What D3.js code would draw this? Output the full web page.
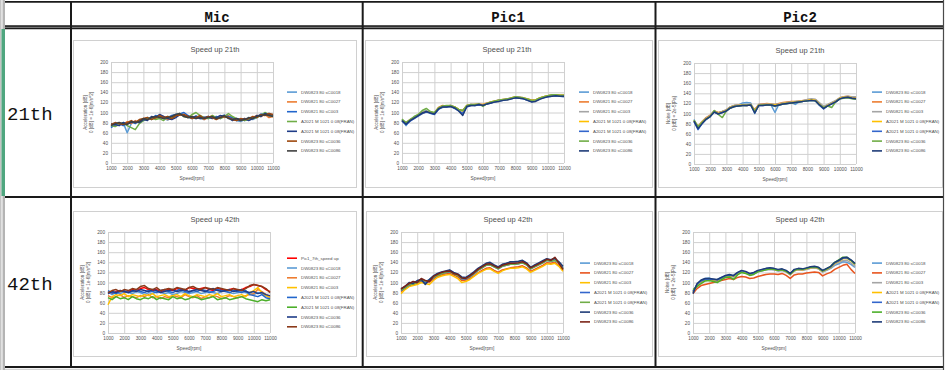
<!DOCTYPE html>
<html>
<head>
<meta charset="utf-8">
<script src="https://cdn.jsdelivr.net/npm/d3@7"></script>
<style>
    body { margin: 0; background: #fff; }
    svg { display: block; }
    .chart text { font-family: "Liberation Sans", Arial, sans-serif; fill: #505050; }
    .axis .domain { display: none; }
    .axis line { stroke: #d0d0d0; stroke-width: 1; }
</style>
</head>
<body>
<script>

// ---- data ----
const rpm = [1000, 1250, 1500, 1750, 2000, 2250, 2500, 2750, 3000, 3250, 3500, 3750, 4000, 4250, 4500,
    4750, 5000, 5250, 5500, 5750, 6000, 6250, 6500, 6750, 7000, 7250, 7500, 7750, 8000, 8250, 8500,
    8750, 9000, 9250, 9500, 9750, 10000, 10250, 10500, 10750, 11000];
const xTicks = [1000, 2000, 3000, 4000, 5000, 6000, 7000, 8000, 9000, 10000, 11000];
const yTicks = [0, 20, 40, 60, 80, 100, 120, 140, 160, 180, 200];

const columnNames = ["Mic", "Pic1", "Pic2"];
const rowNames = ["21th", "42th"];

const titles = ["Speed up 21th", "Speed up 42th"];
const accelLabel = ["Acceleration [dB]", "0 [dB] = 1e-6[m/s^2]"];
const noiseLabel = ["Noise [dB]", "0 [dB] = 2e-5[Pa]"];
const xLabel = "Speed[rpm]";

const names7 = ["DW0823 80 sC0018", "DW0821 80 sC0027", "DW0821 80 sC003", "A2021 M 1021 0 08(FRAN)",
    "A2021 M 1021 0 08(FRAN)", "DW0823 80 sC0036", "DW0823 80 sC0086"];
const namesMic42 = ["Pic1_7th_speed up"].concat(names7);

const mic21Values = [
    [72,78,75,80,60,78,82,80,84,90,86,92,95,88,85,92,96,98,94,90,88,94,88,86,92,90,88,92,95,90,86,84,82,86,90,86,90,97,98,92,94],
    [76,74,80,76,82,78,84,80,88,86,90,88,90,92,86,88,92,95,96,90,92,90,92,86,90,94,88,92,90,94,88,86,84,88,86,90,94,92,96,90,92],
    [70,76,78,74,78,82,78,84,86,90,88,94,92,88,90,94,96,97,100,94,90,88,92,90,88,90,92,88,94,92,90,84,86,84,88,90,92,96,95,98,94],
    [74,72,76,80,74,70,66,78,84,88,90,86,88,84,92,90,94,98,92,90,96,100,94,90,88,94,90,88,92,98,92,88,86,84,86,88,90,94,100,96,92],
    [78,76,74,80,78,80,82,80,86,84,92,90,96,92,88,86,90,96,94,92,90,92,88,90,92,88,90,94,92,90,84,88,86,88,84,88,94,92,98,96,95],
    [76,80,78,76,80,84,80,86,88,90,86,90,94,90,92,88,94,95,96,92,88,90,94,88,92,90,86,90,92,90,86,84,88,86,88,92,90,96,94,98,96],
    [74,78,80,78,76,82,80,82,88,86,90,92,90,88,90,92,96,98,92,90,92,88,90,88,90,92,88,90,94,88,86,88,84,86,90,88,92,94,96,94,92]
];

const pic1_21Values = [
    [86,74,84,90,94,100,104,98,97,107,110,112,114,110,104,96,112,116,114,117,114,118,121,122,125,124,127,128,131,130,128,125,122,124,128,130,133,134,134,133,132],
    [84,80,86,88,96,98,102,101,99,110,114,113,114,111,106,104,114,116,116,117,116,119,121,123,125,126,127,129,130,130,129,127,125,125,129,131,133,134,135,134,134],
    [85,78,86,91,95,101,103,100,98,108,112,112,113,110,105,103,113,115,115,116,115,118,120,122,124,125,126,128,130,129,128,126,123,124,128,130,132,133,134,133,133],
    [84,79,85,89,94,99,102,100,99,109,111,113,112,111,106,103,114,114,116,115,116,117,121,123,124,126,125,129,131,128,129,127,124,125,129,131,133,134,135,134,134],
    [83,76,83,88,93,98,101,99,96,106,111,111,112,108,103,98,111,114,114,115,114,117,119,121,123,124,125,127,129,128,127,124,121,123,127,129,131,132,133,132,131],
    [87,80,86,92,96,104,108,102,100,109,113,114,114,111,106,104,114,116,116,117,112,118,121,123,125,126,127,129,131,130,129,127,124,125,129,131,133,135,135,134,134],
    [84,77,84,89,94,99,102,99,97,107,111,111,112,109,103,94,112,114,114,116,114,117,119,121,122,124,125,127,129,128,127,124,121,122,126,129,131,132,133,132,132]
];

const pic2_21Values = [
    [88,70,82,91,96,105,101,104,107,113,116,117,121,122,121,100,118,118,119,117,102,119,119,120,122,118,123,124,125,126,125,117,112,116,119,124,130,132,132,130,129],
    [85,75,84,92,97,105,102,104,107,113,116,117,117,116,117,108,118,119,120,119,118,120,122,123,124,124,125,126,127,127,127,119,110,117,121,125,131,133,134,132,131],
    [86,74,84,91,96,104,101,104,107,113,116,117,118,118,119,106,118,118,119,119,118,119,121,122,123,124,125,126,128,129,128,121,114,118,122,126,131,133,134,133,133],
    [86,73,83,90,95,104,100,103,106,112,115,116,117,117,118,105,117,117,118,118,117,118,120,121,122,123,124,125,126,127,126,118,111,116,120,124,130,132,133,131,130],
    [84,68,80,88,94,103,99,102,105,111,114,115,116,116,117,102,116,116,117,117,115,117,119,120,121,122,123,124,125,126,125,116,109,115,119,123,129,131,132,130,129],
    [87,74,82,89,94,106,98,92,105,111,114,115,116,116,117,104,116,117,117,117,115,117,119,120,121,122,123,124,125,126,125,117,112,115,112,123,129,130,131,129,128],
    [85,70,80,89,94,103,99,102,105,111,114,115,116,116,117,101,116,116,117,117,115,117,119,120,121,122,123,124,125,126,125,117,110,115,119,123,129,131,132,130,129]
];

const mic42Values = [
    [80,78,82,84,80,82,86,84,88,90,86,84,86,82,84,86,84,88,86,84,90,88,86,88,90,86,84,88,86,84,86,88,84,86,90,92,96,94,92,86,82],
    [82,76,80,78,82,80,78,82,80,76,80,78,82,80,78,80,76,78,82,80,78,80,82,78,80,82,80,78,82,84,80,78,80,82,80,78,76,80,78,74,72],
    [74,70,72,76,70,74,72,70,74,72,76,70,72,68,72,70,74,72,70,76,72,70,74,68,72,70,74,72,68,70,74,72,70,72,74,76,78,86,82,76,72],
    [56,72,76,74,78,72,76,74,72,76,74,78,72,74,76,72,74,76,72,78,74,72,76,74,72,76,74,78,72,74,76,72,74,76,72,80,84,90,80,74,70],
    [84,80,78,82,84,80,82,86,82,80,84,82,80,84,86,82,80,84,88,82,80,84,82,86,84,80,82,86,84,82,80,84,82,80,84,76,74,72,76,70,68],
    [70,66,72,68,70,66,72,68,66,70,68,72,66,70,68,66,72,68,70,66,68,72,70,66,68,70,72,66,68,70,66,68,70,72,68,66,64,62,66,64,66],
    [78,82,80,84,82,80,84,82,86,84,82,86,84,80,82,84,86,82,84,86,82,84,86,84,82,86,88,84,82,84,86,82,84,86,82,80,82,78,80,76,74],
    [80,84,86,82,86,84,88,86,92,94,88,86,90,84,86,88,86,90,88,86,90,92,88,86,90,88,86,90,88,86,84,88,86,84,88,94,96,94,92,88,80]
];

const pic1_42Values = [
    [86,91,98,99,102,106,101,106,112,117,119,121,124,119,116,110,109,114,120,127,132,137,138,134,130,135,137,140,140,141,143,138,129,134,138,142,146,144,146,140,130],
    [82,88,93,96,98,102,100,101,106,112,115,117,118,115,111,104,105,108,113,119,124,128,129,124,120,125,127,129,130,131,133,129,122,126,130,134,139,138,140,134,124],
    [78,86,92,94,96,100,98,96,104,110,113,115,116,112,108,100,102,106,112,118,122,126,127,122,118,123,126,128,128,129,131,127,120,124,128,132,137,136,138,132,122],
    [84,90,95,98,101,104,100,103,109,115,118,120,121,118,114,107,107,111,117,124,129,134,135,131,127,132,134,136,136,137,139,135,127,131,135,139,144,142,144,139,128],
    [85,89,96,97,100,105,103,104,110,114,117,120,122,117,114,108,108,112,118,124,129,134,135,131,127,132,134,136,136,137,139,135,127,131,135,139,144,142,144,139,127],
    [88,92,100,98,104,106,96,106,113,118,121,123,125,120,117,111,110,115,121,128,133,138,140,135,131,136,138,141,141,142,144,139,130,135,139,143,147,145,148,141,132],
    [87,93,98,102,100,108,104,102,112,116,120,122,123,118,116,109,108,113,119,126,131,136,137,133,129,134,136,138,138,139,141,137,129,133,137,141,146,144,150,138,126]
];

const pic2_42Values = [
    [80,96,104,108,109,104,106,110,112,113,112,117,121,119,115,117,121,123,125,126,125,123,124,121,116,123,125,124,126,128,129,127,121,124,128,134,137,141,140,136,130],
    [78,88,94,96,98,100,102,104,106,108,106,110,112,111,108,109,112,114,116,117,117,116,118,114,108,115,117,117,119,120,121,120,113,117,120,126,130,134,136,126,118],
    [81,94,101,104,105,104,103,107,111,113,111,117,121,119,115,117,121,123,125,126,125,123,124,121,115,123,125,124,126,128,129,127,121,125,129,136,140,143,144,139,132],
    [82,95,102,105,106,105,104,108,112,114,112,118,122,120,116,118,122,124,126,127,126,124,125,122,116,124,126,125,127,129,130,128,122,126,130,138,142,147,148,143,136],
    [83,96,103,106,107,106,105,109,113,115,113,119,123,121,117,119,123,125,127,128,127,125,126,123,117,125,127,126,128,130,131,129,123,127,131,139,143,148,149,144,137],
    [86,92,98,103,104,102,100,105,110,111,106,115,120,118,114,116,121,123,125,127,126,124,125,122,117,124,127,126,128,130,131,129,123,127,132,140,145,150,150,144,137],
    [78,98,105,108,108,107,106,110,114,116,114,120,124,122,118,120,124,126,128,129,128,126,127,124,118,126,128,127,129,131,132,130,124,128,132,140,144,149,150,145,138]
];

// ---- colours (Excel-like palette) ----
const micColors21 = ["#5b9bd5", "#ed7d31", "#2266cc", "#70ad47", "#1f3c88", "#9e480e", "#404040"];
const picColors21 = ["#5b9bd5", "#ed7d31", "#a5a5a5", "#ffc000", "#3366cc", "#70ad47", "#1f3c78"];
const micColors42 = ["#ff0000", "#5b9bd5", "#ed7d31", "#ffc000", "#2266cc", "#4caf2a", "#1f3c88", "#8b3a1a"];
const pic1Colors42 = ["#5b9bd5", "#e8541e", "#ffc000", "#3366cc", "#70ad47", "#1f3c78", "#7b2418"];
const pic2Colors42 = ["#5b9bd5", "#e8541e", "#a5a5a5", "#ffc000", "#3366cc", "#4caf2a", "#1f3c78"];

// ---- page ----
const width = 945, height = 370;
const svg = d3.select("body").append("svg")
    .attr("width", width)
    .attr("height", height);

// left gutter of the spreadsheet window
svg.append("rect").attr("x", 0).attr("y", 0).attr("width", 1.5).attr("height", height).attr("fill", "#c4c4c4");
svg.append("rect").attr("x", 2.5).attr("y", 0).attr("width", 2.5).attr("height", height).attr("fill", "#b4b4b4");
svg.append("rect").attr("x", 1.5).attr("y", 29).attr("width", 3.5).attr("height", 167).attr("fill", "#4fa67f");

// one chart inside a cell
const drawPanel = (p) => {
    const [bx, by, bw, bh] = p.box;
    const plotWidth = 162, plotHeight = 101;

    const g = svg.append("g")
        .attr("class", "chart")
        .attr("transform", "translate(" + bx + "," + by + ")");

    g.append("rect")
        .attr("x", 0.5).attr("y", 0.5)
        .attr("width", bw - 1).attr("height", bh - 1)
        .attr("fill", "#fff")
        .attr("stroke", "#d0d0d0");

    g.append("text")
        .attr("x", 142).attr("y", p.top - 10)
        .attr("text-anchor", "middle")
        .style("font-size", "7.5px")
        .text(p.title);

    const plot = g.append("g").attr("transform", "translate(" + p.left + "," + p.top + ")");

    const xRange = d3.scaleLinear().domain([1000, 11000]).range([0, plotWidth]);
    const yRange = d3.scaleLinear().domain([0, 200]).range([plotHeight, 0]);

    plot.append("g")
        .attr("class", "axis")
        .attr("transform", "translate(0," + plotHeight + ")")
        .call(d3.axisBottom(xRange).tickValues(xTicks).tickSize(-plotHeight).tickPadding(4).tickFormat(d3.format("d")))
        .call(a => a.selectAll("text").style("font-size", "4.7px").attr("fill", "#454545").attr("font-family", "Liberation Sans"));

    plot.append("g")
        .attr("class", "axis")
        .call(d3.axisLeft(yRange).tickValues(yTicks).tickSize(-plotWidth).tickPadding(3))
        .call(a => a.selectAll("text").style("font-size", "4.7px").attr("fill", "#454545").attr("font-family", "Liberation Sans"));

    plot.append("text")
        .attr("x", plotWidth / 2).attr("y", plotHeight + 16.5)
        .attr("text-anchor", "middle")
        .style("font-size", "4.8px")
        .text(xLabel);

    p.yLabel.forEach((line, i) => {
        plot.append("text")
            .attr("transform", "translate(" + (-24 + i * 6) + "," + (plotHeight / 2) + ") rotate(-90)")
            .attr("text-anchor", "middle")
            .style("font-size", "4.6px")
            .text(line);
    });

    const valueLine = d3.line()
        .x((d, i) => xRange(rpm[i]))
        .y(d => yRange(d));

    p.values.forEach((series, i) => {
        plot.append("path")
            .attr("d", valueLine(series))
            .attr("fill", "none")
            .attr("stroke", p.colors[i])
            .attr("stroke-width", 1.5)
            .attr("stroke-linejoin", "round");
    });

    // legend
    const step = 9.8;
    const legendTop = 81.5 - (p.names.length - 1) * step / 2;
    p.names.forEach((name, i) => {
        const ly = legendTop + i * step;
        g.append("line")
            .attr("x1", 214).attr("x2", 224)
            .attr("y1", ly).attr("y2", ly)
            .attr("stroke", p.colors[i])
            .attr("stroke-width", 1.6);
        g.append("text")
            .attr("x", 228).attr("y", ly + 1.5)
            .style("font-size", "4.4px")
            .attr("fill", "#404040")
            .text(name);
    });
};

const panels = [
    {box: [73, 40, 284, 148], left: 38, top: 22, title: titles[0], yLabel: accelLabel, names: names7, colors: micColors21, values: mic21Values},
    {box: [365, 40, 288, 148], left: 37, top: 22, title: titles[0], yLabel: accelLabel, names: names7, colors: picColors21, values: pic1_21Values},
    {box: [658, 40, 285, 148], left: 36, top: 23, title: titles[0], yLabel: noiseLabel, names: names7, colors: picColors21, values: pic2_21Values},
    {box: [73, 211, 284, 146], left: 35, top: 21, title: titles[1], yLabel: accelLabel, names: namesMic42, colors: micColors42, values: mic42Values},
    {box: [366, 211, 287, 146], left: 35, top: 21, title: titles[1], yLabel: accelLabel, names: names7, colors: pic1Colors42, values: pic1_42Values},
    {box: [658, 211, 285, 146], left: 35, top: 21, title: titles[1], yLabel: noiseLabel, names: names7, colors: pic2Colors42, values: pic2_42Values}
];

panels.forEach(drawPanel);

// ---- table grid ----
const hLine = (y, x1, x2, w, c) => svg.append("line")
    .attr("x1", x1).attr("x2", x2).attr("y1", y).attr("y2", y)
    .attr("stroke", c).attr("stroke-width", w);
const vLine = (x, y1, y2, w, c) => svg.append("line")
    .attr("x1", x).attr("x2", x).attr("y1", y1).attr("y2", y2)
    .attr("stroke", c).attr("stroke-width", w);

hLine(1.8, 5, 944, 1.8, "#1a1a1a");
hLine(27.3, 5, 944, 4, "#1a1a1a");
hLine(27.3, 5, 944, 0.9, "#9a9a9a");
hLine(197, 5, 944, 1.8, "#1a1a1a");
hLine(367, 5, 944, 1.8, "#1a1a1a");
hLine(369.3, 5, 944, 1, "#c8c8c8");
vLine(71, 1, 368, 2, "#1a1a1a");
vLine(362.7, 1, 368, 2, "#1a1a1a");
vLine(655.5, 1, 368, 2, "#1a1a1a");
vLine(943.5, 0, 370, 1.2, "#4a4a4a");

// ---- header texts ----
const colCenters = [217, 508, 800];
columnNames.forEach((name, i) => {
    svg.append("text")
        .attr("x", colCenters[i]).attr("y", 21.5)
        .attr("text-anchor", "middle")
        .style("font-family", "Liberation Mono, monospace")
        .style("font-weight", "bold")
        .style("font-size", "14px")
        .attr("fill", "#111")
        .text(name);
});

const rowBaselines = [120, 290];
rowNames.forEach((name, i) => {
    svg.append("text")
        .attr("x", 7).attr("y", rowBaselines[i])
        .style("font-family", "Liberation Mono, monospace")
        .style("font-size", "19px")
        .attr("fill", "#111")
        .text(name);
});

</script>
</body>
</html>
